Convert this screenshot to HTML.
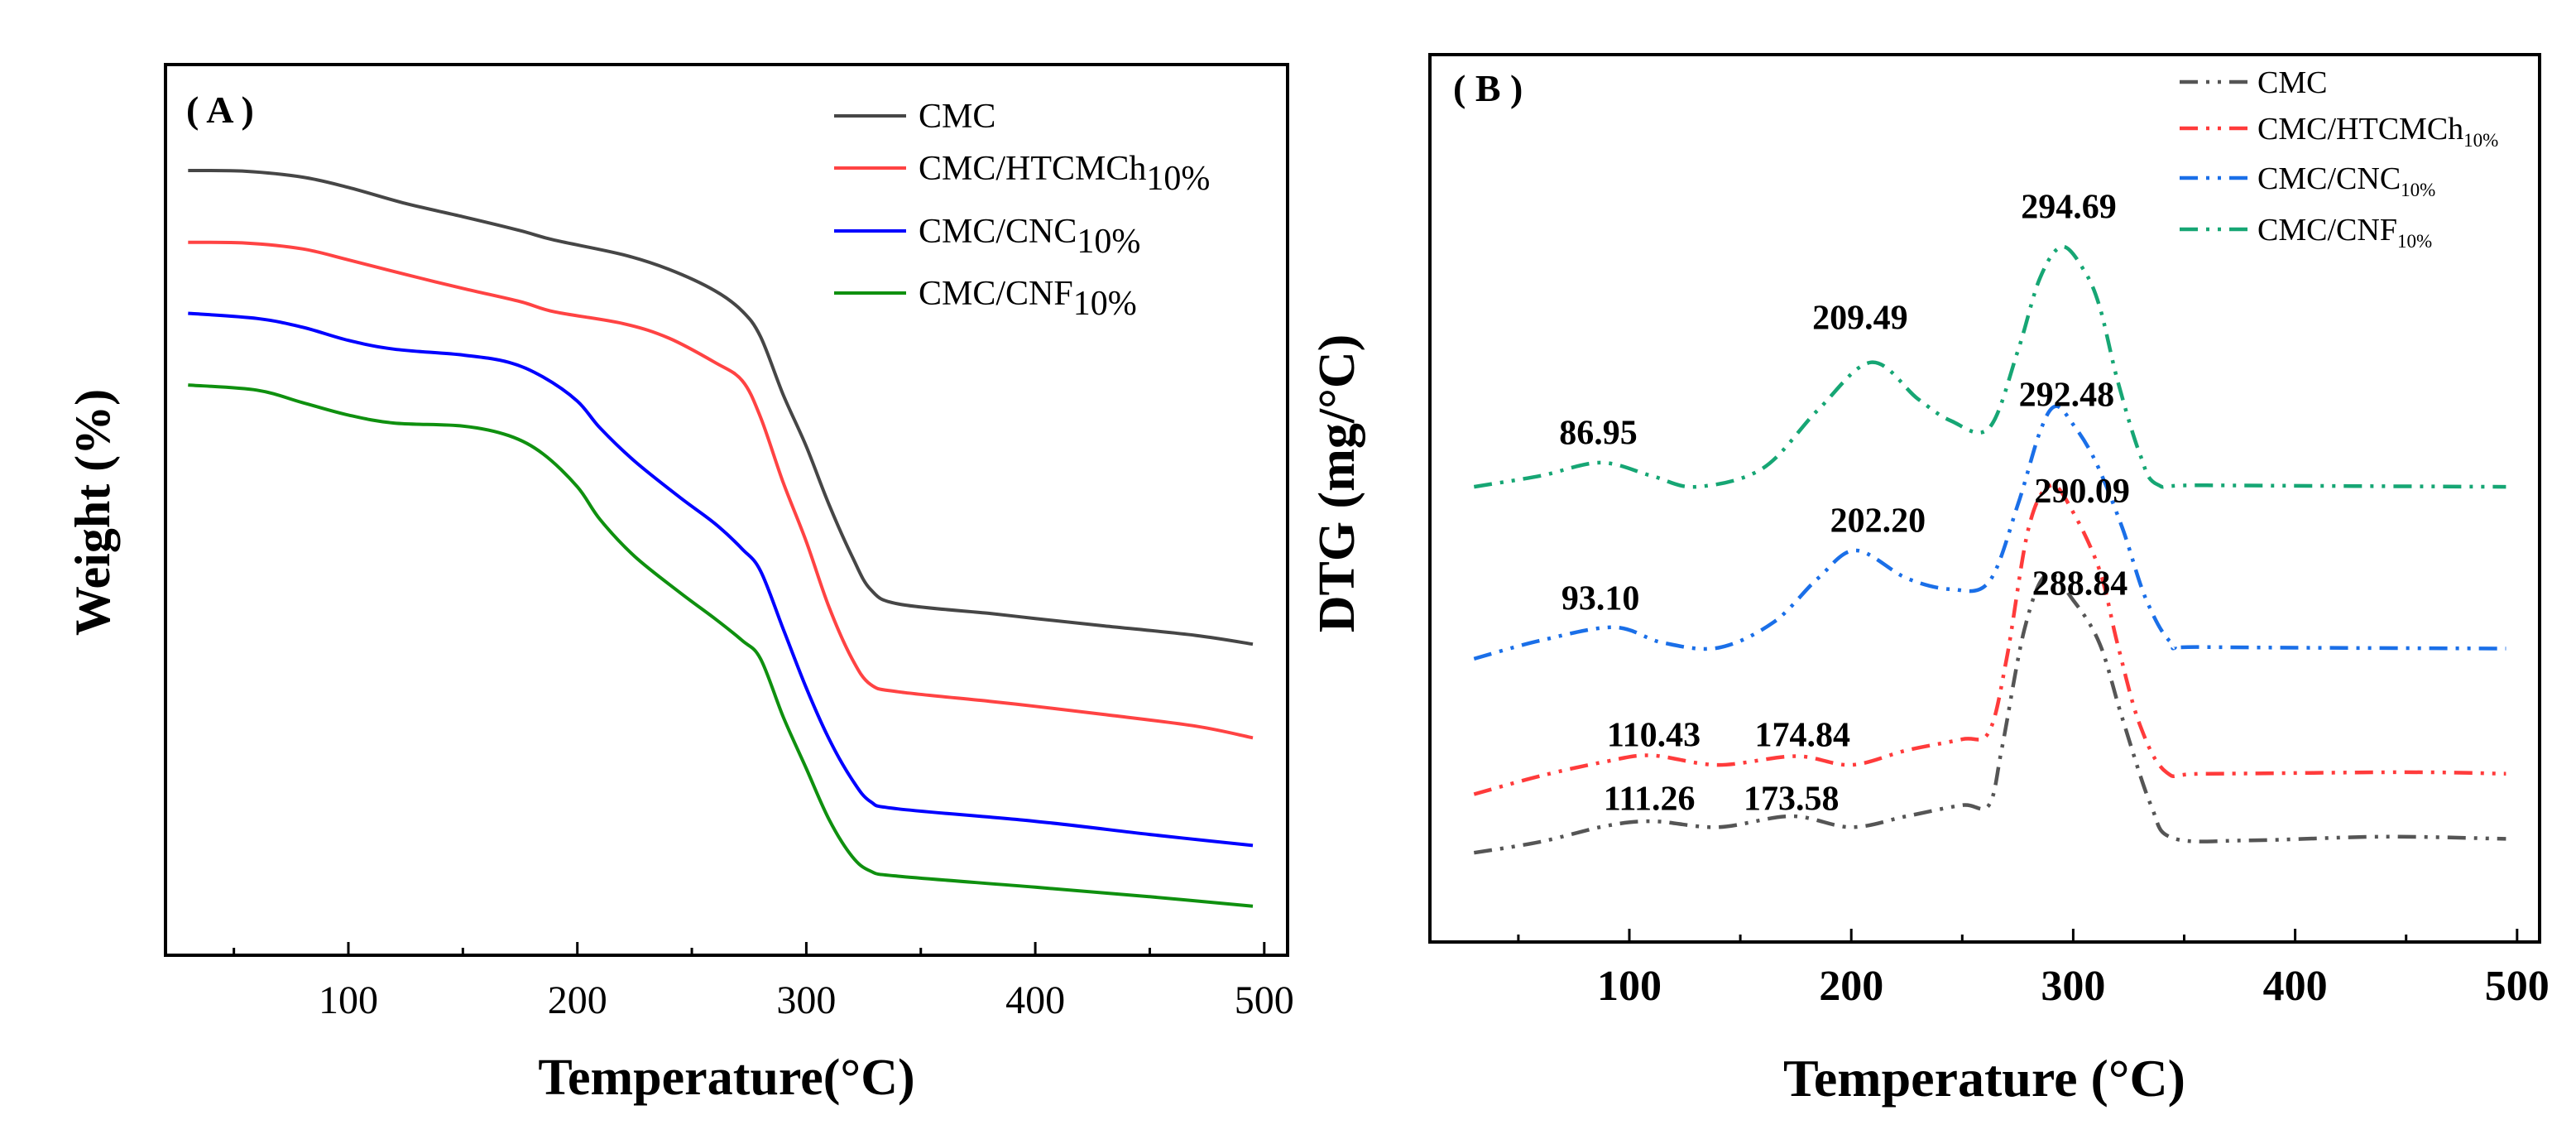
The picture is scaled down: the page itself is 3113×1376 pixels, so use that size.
<!DOCTYPE html>
<html><head><meta charset="utf-8"><style>
html,body{margin:0;padding:0;background:#fff;overflow:hidden}
svg{display:block;font-family:"Liberation Serif",serif}
</style></head><body>
<svg id="c" width="3113" height="1376" viewBox="0 0 3113 1376" style="position:absolute;left:0;top:0"></svg>
<script>
// ---- Panel A data (weight, arbitrary units) ----
const tempsA_CMC=[30,55,80,100,125,150,175,190,220,240,260,272,280,290,300,310,320,328,340,380,400,430,470,495];
const wA_CMC=[233,234,242,256,278,296,315,328,348,368,397,425,460,540,610,690,760,805,825,838,845,855,868,880];
const tempsA_HT=[30,55,80,100,125,150,175,190,220,240,260,272,280,290,300,310,320,328,340,380,400,430,470,495];
const wA_HT=[331,332,340,355,375,394,412,426,442,462,495,520,570,660,740,830,900,935,945,958,965,976,992,1008];
const tempsA_CNC=[30,60,80,100,120,150,170,185,200,210,225,245,260,272,280,290,300,310,320,328,340,400,450,495];
const wA_CNC=[428,435,447,465,477,485,495,515,548,585,630,680,715,750,780,860,940,1010,1065,1095,1105,1122,1140,1155];
const tempsA_CNF=[30,60,80,100,120,150,170,185,200,210,225,245,260,272,280,290,300,310,320,328,340,400,450,495];
const wA_CNF=[526,533,550,567,578,582,595,620,665,710,760,810,845,875,900,980,1050,1120,1170,1190,1197,1212,1225,1238];
// ---- Panel B data (DTG, arbitrary units) ----
const tempsB_CMC=[30,60,90,111,140,173,200,225,250,262,268,278,288,300,312,322,335,345,380,440,495];
const dB_CMC=[1165,1150,1128,1122,1130,1115,1130,1115,1100,1100,1020,860,785,820,880,980,1100,1145,1148,1143,1146];
const tempsB_HT=[30,60,90,110,140,175,200,225,250,262,270,280,290,300,312,320,330,342,360,450,495];
const dB_HT=[1085,1060,1040,1032,1045,1033,1045,1025,1010,1000,900,720,663,700,780,880,990,1055,1057,1055,1057];
const tempsB_CNC=[30,60,93,115,140,165,185,202,225,245,262,275,285,292,300,310,322,333,345,360,495];
const dB_CNC=[900,875,857,878,885,850,790,752,790,805,795,690,590,555,580,630,720,820,880,884,886];
const tempsB_CNF=[30,60,87,110,130,160,185,209,230,245,262,275,285,295,305,312,320,330,338,360,495];
const dB_CNF=[665,650,632,650,665,640,560,495,545,575,585,480,380,337,370,420,520,620,662,663,665];
const peakLabels=["294.69","209.49","292.48","86.95","290.09","202.20","93.10","288.84","110.43","174.84","111.26","173.58"];
const peakLabelT=[298,204,297,86,304,212,87,303,111,178,109,173];
const peakLabelV=[283,435,540,592,672,712,818,798,1005,1005,1092,1092];
const xTicks=[100,200,300,400,500];

const NS="http://www.w3.org/2000/svg";
const svg=document.getElementById('c');
const K=0.8843;
function el(t,a,p){const e=document.createElementNS(NS,t);for(const k in a)e.setAttribute(k,a[k]);(p||svg).appendChild(e);return e;}
const xA=t=>421+(t-100)*2.767, yA=v=>v*K;
const xB=t=>1969+(t-100)*2.682, yB=v=>v*K;
function path(ts,vs,xf,yf){
  const P=ts.map((t,i)=>[xf(t),yf(vs[i])]);
  let d="M"+P[0][0].toFixed(1)+","+P[0][1].toFixed(1);
  for(let i=0;i<P.length-1;i++){
    const p0=P[i-1]||P[i],p1=P[i],p2=P[i+1],p3=P[i+2]||P[i+1];
    const c1=[p1[0]+(p2[0]-p0[0])/6,p1[1]+(p2[1]-p0[1])/6];
    const c2=[p2[0]-(p3[0]-p1[0])/6,p2[1]-(p3[1]-p1[1])/6];
    d+=` C${c1[0].toFixed(1)},${c1[1].toFixed(1)} ${c2[0].toFixed(1)},${c2[1].toFixed(1)} ${p2[0].toFixed(1)},${p2[1].toFixed(1)}`;
  }
  return d;
}
function panel(name,x0,x1,y0,y1,xf,bold,lblSize){
  const g=el('g',{});
  
  
  el('rect',{x:x0,y:y0,width:x1-x0,height:y1-y0,fill:'none',stroke:'#000','stroke-width':4},g);
  for(let t=50;t<=500;t+=50){
    const x=xf(t);
    const major=xTicks.includes(t);
    el('line',{x1:x,x2:x,y1:y1,y2:y1-(major?16:9),stroke:'#000','stroke-width':3},g);
    if(major){
      const tx=el('text',{x:x,y:y1+70,'text-anchor':'middle','font-size':lblSize,'font-weight':bold?'bold':'normal'},g);
      tx.textContent=t;
      
      
    }
  }
}
panel('panel-a',200,1556,78,1154,xA,false,48);
const colsA=['#464646','#ff4343','#0000ff','#0f900f'];
const seriesA=[[tempsA_CMC,wA_CMC],[tempsA_HT,wA_HT],[tempsA_CNC,wA_CNC],[tempsA_CNF,wA_CNF]];
const namesA=['cmc','cmc-htcmch','cmc-cnc','cmc-cnf'];
seriesA.forEach((s,i)=>{
  const p=el('path',{d:path(s[0],s[1],xA,yA),fill:'none',stroke:colsA[i],'stroke-width':4});
  
  
});
panel('panel-b',1728,3069,66,1138,xB,true,52);
const colsB=['#555555','#ff3b3b','#1a6fe8','#16a674'];
const seriesB=[[tempsB_CMC,dB_CMC],[tempsB_HT,dB_HT],[tempsB_CNC,dB_CNC],[tempsB_CNF,dB_CNF]];
seriesB.forEach((s,i)=>{
  const p=el('path',{d:path(s[0],s[1],xB,yB),fill:'none',stroke:colsB[i],'stroke-width':4.5,'stroke-dasharray':'22 10 4 10 4 10'});
  
  
});
peakLabels.forEach((l,i)=>{
  const t=el('text',{x:xB(peakLabelT[i]),y:yB(peakLabelV[i]),'text-anchor':'middle','dominant-baseline':'central','font-size':42,'font-weight':'bold'});
  t.textContent=l;
  
  
});
</script>
<svg width="3113" height="1376" viewBox="0 0 3113 1376" style="position:absolute;left:0;top:0" font-family="Liberation Serif, serif">
  <text x="225" y="148" font-size="46" font-weight="bold">( A )</text>
  <g font-size="42">
    <line x1="1008" x2="1095" y1="140" y2="140" stroke="#464646" stroke-width="4"/>
    <text x="1110" y="154">CMC</text>
    <line x1="1008" x2="1095" y1="203" y2="203" stroke="#ff4343" stroke-width="4"/>
    <text x="1110" y="217">CMC/HTCMCh<tspan dy="12">10%</tspan></text>
    <line x1="1008" x2="1095" y1="279" y2="279" stroke="#0000ff" stroke-width="4"/>
    <text x="1110" y="293">CMC/CNC<tspan dy="12">10%</tspan></text>
    <line x1="1008" x2="1095" y1="354" y2="354" stroke="#0f900f" stroke-width="4"/>
    <text x="1110" y="368">CMC/CNF<tspan dy="12">10%</tspan></text>
  </g>
  <text transform="translate(132,619) rotate(-90)" text-anchor="middle" font-size="60" font-weight="bold">Weight (%)</text>
  <text x="878" y="1322" text-anchor="middle" font-size="62" font-weight="bold">Temperature(°C)</text>

  <text x="1756" y="122" font-size="46" font-weight="bold">( B )</text>
  <g font-size="38">
    <line x1="2634" x2="2716" y1="99" y2="99" stroke="#555555" stroke-width="4.5" stroke-dasharray="22 10 4 10 4 10"/>
    <text x="2728" y="112">CMC</text>
    <line x1="2634" x2="2716" y1="155" y2="155" stroke="#ff3b3b" stroke-width="4.5" stroke-dasharray="22 10 4 10 4 10"/>
    <text x="2728" y="168">CMC/HTCMCh<tspan dy="9" font-size="23">10%</tspan></text>
    <line x1="2634" x2="2716" y1="215" y2="215" stroke="#1a6fe8" stroke-width="4.5" stroke-dasharray="22 10 4 10 4 10"/>
    <text x="2728" y="228">CMC/CNC<tspan dy="9" font-size="23">10%</tspan></text>
    <line x1="2634" x2="2716" y1="277" y2="277" stroke="#16a674" stroke-width="4.5" stroke-dasharray="22 10 4 10 4 10"/>
    <text x="2728" y="290">CMC/CNF<tspan dy="9" font-size="23">10%</tspan></text>
  </g>
  <text transform="translate(1636,584) rotate(-90)" text-anchor="middle" font-size="62" font-weight="bold">DTG (mg/°C)</text>
  <text x="2398" y="1324" text-anchor="middle" font-size="64" font-weight="bold">Temperature (°C)</text>
</svg>
</body></html>
